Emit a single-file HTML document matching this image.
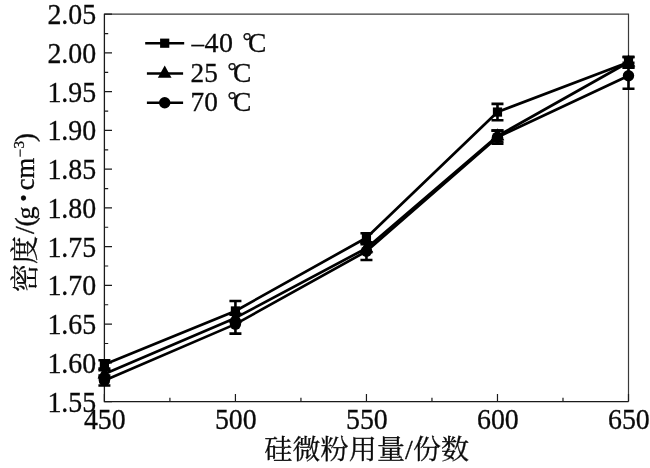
<!DOCTYPE html>
<html lang="zh"><head><meta charset="utf-8"><title>chart</title>
<style>html,body{margin:0;padding:0;background:#fff}svg{display:block}text{font-family:"Liberation Serif","Noto Serif CJK SC",serif;fill:#0a0a0a;stroke:#0a0a0a;stroke-width:0.3px}</style></head><body>
<svg width="650" height="468" viewBox="0 0 650 468">
<rect width="650" height="468" fill="#fff"/>
<g fill="none" stroke-linecap="butt">
<path d="M104.4 14.2H628.5V401.6" stroke="#3a3a3a" stroke-width="1.2"/>
<path d="M104.4 13.7V401.6H628.5" stroke="#1a1a1a" stroke-width="1.3"/>
<path d="M104.4 14.20h7.6M104.4 33.57h3.8M104.4 52.94h7.6M104.4 72.31h3.8M104.4 91.68h7.6M104.4 111.05h3.8M104.4 130.42h7.6M104.4 149.79h3.8M104.4 169.16h7.6M104.4 188.53h3.8M104.4 207.90h7.6M104.4 227.27h3.8M104.4 246.64h7.6M104.4 266.01h3.8M104.4 285.38h7.6M104.4 304.75h3.8M104.4 324.12h7.6M104.4 343.49h3.8M104.4 362.86h7.6M104.4 382.23h3.8M104.4 401.60h7.6M104.40 401.6v-7.6M169.91 401.6v-3.8M235.43 401.6v-7.6M300.94 401.6v-3.8M366.45 401.6v-7.6M431.96 401.6v-3.8M497.48 401.6v-7.6M562.99 401.6v-3.8M628.50 401.6v-7.6" stroke="#1a1a1a" stroke-width="1.2"/>
</g>
<g font-size="29.5" text-anchor="end">
<text transform="translate(96.2 24.1) scale(0.945 1)">2.05</text>
<text transform="translate(96.2 62.8) scale(0.945 1)">2.00</text>
<text transform="translate(96.2 101.6) scale(0.945 1)">1.95</text>
<text transform="translate(96.2 140.3) scale(0.945 1)">1.90</text>
<text transform="translate(96.2 179.1) scale(0.945 1)">1.85</text>
<text transform="translate(96.2 217.8) scale(0.945 1)">1.80</text>
<text transform="translate(96.2 256.5) scale(0.945 1)">1.75</text>
<text transform="translate(96.2 295.3) scale(0.945 1)">1.70</text>
<text transform="translate(96.2 334.0) scale(0.945 1)">1.65</text>
<text transform="translate(96.2 372.8) scale(0.945 1)">1.60</text>
<text transform="translate(96.2 411.5) scale(0.945 1)">1.55</text>
</g>
<g font-size="29.5" text-anchor="middle">
<text transform="translate(104.8 428.9) scale(0.945 1)">450</text>
<text transform="translate(235.8 428.9) scale(0.945 1)">500</text>
<text transform="translate(366.9 428.9) scale(0.945 1)">550</text>
<text transform="translate(497.9 428.9) scale(0.945 1)">600</text>
<text transform="translate(628.9 428.9) scale(0.945 1)">650</text>
</g>
<text transform="translate(366.8 459.3) scale(1 0.96)" font-size="28" text-anchor="middle" letter-spacing="0.15">硅微粉用量/份数</text>
<g transform="translate(33.5 0) rotate(-90)">
<text x="-292" y="1" font-size="28">密度</text>
<text font-size="26" y="0"><tspan x="-234" font-size="28">/</tspan><tspan x="-226.6" font-size="28">(</tspan><tspan x="-219.4">g</tspan><tspan x="-204.9" y="4.9" font-size="42">·</tspan><tspan x="-190.3" y="0" font-size="26.6">cm</tspan><tspan x="-157.6" y="-9" font-size="15">−</tspan><tspan x="-148.5" y="-9.7" font-size="15">3</tspan><tspan x="-142.2" y="0" font-size="28">)</tspan></text>
</g>
<g stroke="#000" fill="#000">
<polyline points="104.40,364.41 235.43,310.95 366.45,237.73 497.48,112.06 628.50,62.24" fill="none" stroke-width="2.7" stroke-linejoin="round"/>
<path d="M104.40 360.21V368.61M98.40 360.21h12M98.40 368.61h12M235.43 300.95V320.95M229.43 300.95h12M229.43 320.95h12M366.45 233.23V242.23M360.45 233.23h12M360.45 242.23h12M497.48 103.86V120.26M491.48 103.86h12M491.48 120.26h12M628.50 56.74V67.74M622.50 56.74h12M622.50 67.74h12" fill="none" stroke-width="2.6"/>
<g stroke="none">
<rect x="99.80" y="359.81" width="9.2" height="9.2"/>
<rect x="230.83" y="306.35" width="9.2" height="9.2"/>
<rect x="361.85" y="233.13" width="9.2" height="9.2"/>
<rect x="492.88" y="107.46" width="9.2" height="9.2"/>
<rect x="623.90" y="57.64" width="9.2" height="9.2"/>
</g>
<polyline points="104.40,374.09 235.43,317.92 366.45,248.19 497.48,136.00 628.50,62.24" fill="none" stroke-width="2.7" stroke-linejoin="round"/>
<path d="M104.40 370.09V378.09M98.40 370.09h12M98.40 378.09h12M235.43 313.92V321.92M229.43 313.92h12M229.43 321.92h12M366.45 244.19V252.19M360.45 244.19h12M360.45 252.19h12M497.48 130.50V141.50M491.48 130.50h12M491.48 141.50h12M628.50 57.24V67.24M622.50 57.24h12M622.50 67.24h12" fill="none" stroke-width="2.6"/>
<g stroke="none">
<path d="M104.40 366.29L111.25 378.39H97.55Z"/>
<path d="M235.43 310.12L242.28 322.22H228.58Z"/>
<path d="M366.45 240.39L373.30 252.49H359.60Z"/>
<path d="M497.48 128.20L504.33 140.30H490.62Z"/>
<path d="M628.50 54.44L635.35 66.54H621.65Z"/>
</g>
<polyline points="104.40,380.53 235.43,324.12 366.45,251.29 497.48,137.16 628.50,75.80" fill="none" stroke-width="2.7" stroke-linejoin="round"/>
<path d="M104.40 375.63V385.43M98.40 375.63h12M98.40 385.43h12M235.43 314.62V333.62M229.43 314.62h12M229.43 333.62h12M366.45 242.59V259.99M360.45 242.59h12M360.45 259.99h12M497.48 130.66V143.66M491.48 130.66h12M491.48 143.66h12M628.50 62.90V88.70M622.50 62.90h12M622.50 88.70h12" fill="none" stroke-width="2.6"/>
<g stroke="none">
<circle cx="104.40" cy="380.53" r="5.7"/>
<circle cx="235.43" cy="324.12" r="5.7"/>
<circle cx="366.45" cy="251.29" r="5.7"/>
<circle cx="497.48" cy="137.16" r="5.7"/>
<circle cx="628.50" cy="75.80" r="5.7"/>
</g>
<path d="M145.2 43.2H184.2" fill="none" stroke-width="2.5"/>
<g stroke="none"><rect x="160.10" y="38.60" width="9.2" height="9.2"/></g>
<path d="M146.9 73.4H183.1" fill="none" stroke-width="2.5"/>
<g stroke="none"><path d="M164.70 65.60L171.55 77.70H157.85Z"/></g>
<path d="M146.9 102.8H183.1" fill="none" stroke-width="2.5"/>
<g stroke="none"><circle cx="164.70" cy="102.80" r="5.7"/></g>
</g>
<g font-size="28">
<text x="191.4" y="52.0" font-size="25">–<tspan x="204.5" font-size="28" letter-spacing="0.5">40 </tspan><tspan x="242.6" y="48.6" font-size="23">°</tspan><tspan x="247.9" y="52.0" font-size="27.5">C</tspan></text>
<text x="190.5" y="82.2" font-size="27.3">25 <tspan x="227.6" y="78.8" font-size="23">°</tspan><tspan x="232.9" y="82.2" font-size="27.5">C</tspan></text>
<text x="190.5" y="111.0" font-size="27.3">70 <tspan x="227.6" y="107.6" font-size="23">°</tspan><tspan x="232.9" y="111.0" font-size="27.5">C</tspan></text>
</g>
</svg></body></html>
